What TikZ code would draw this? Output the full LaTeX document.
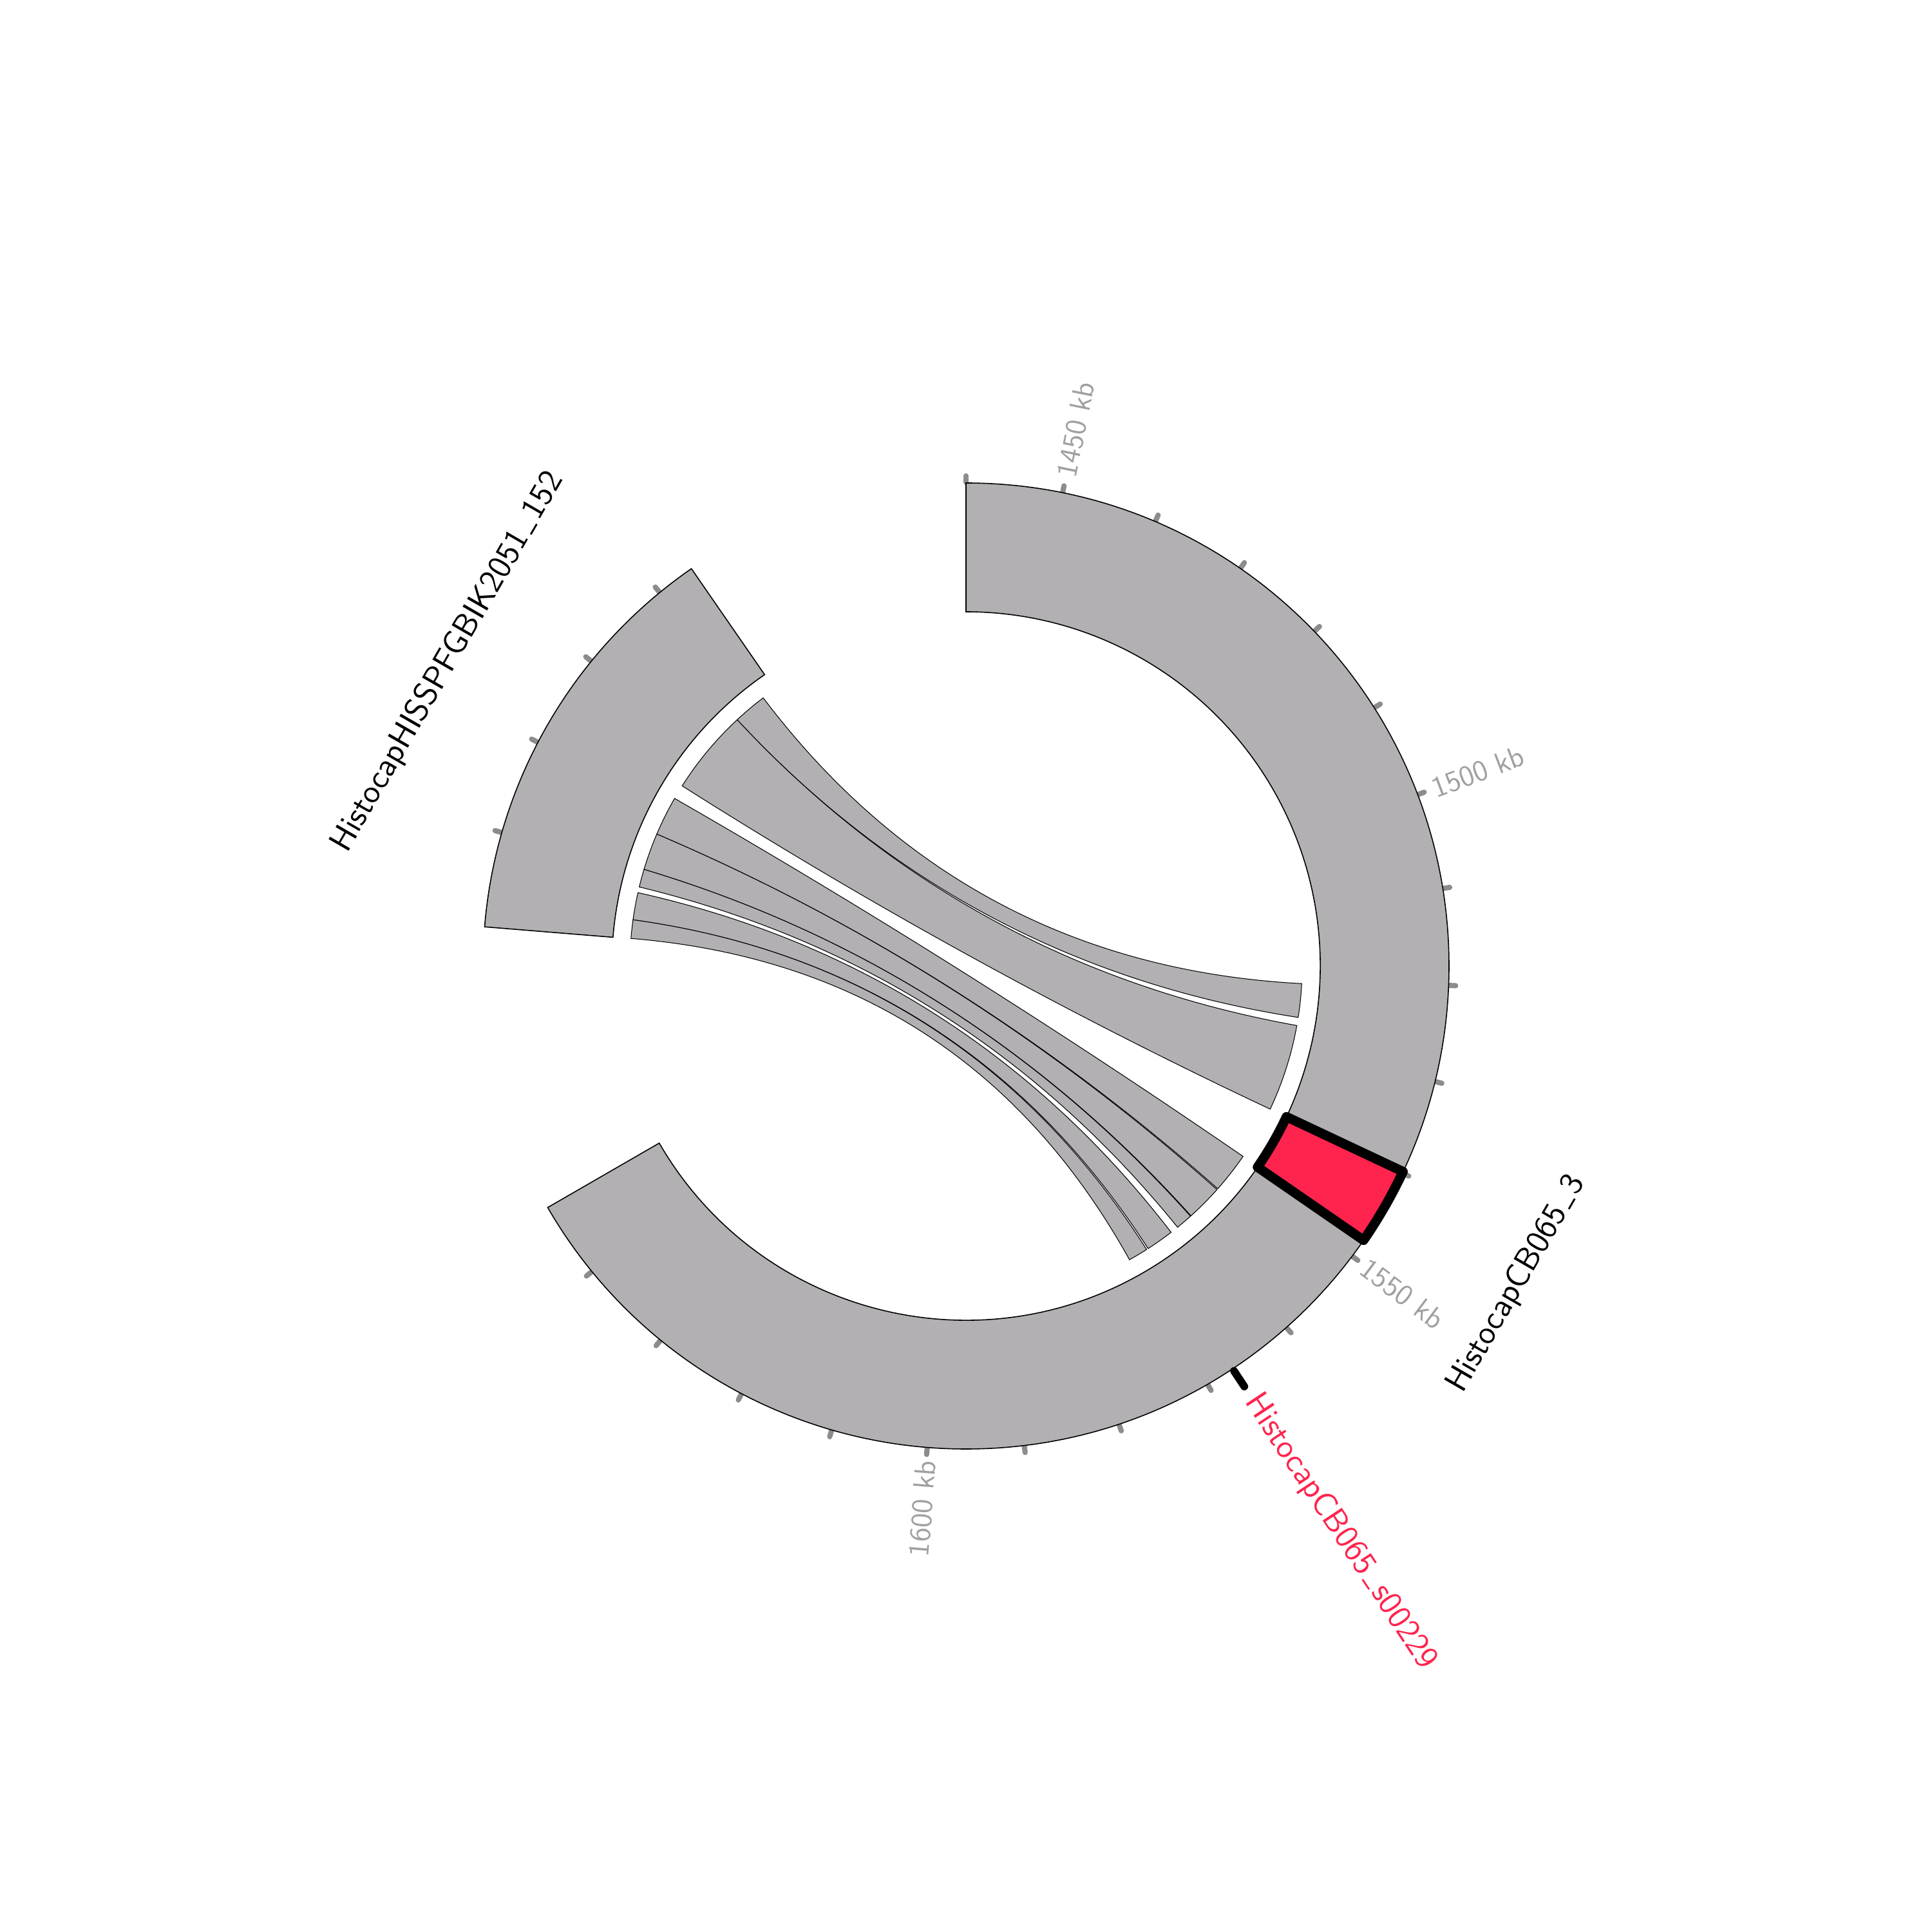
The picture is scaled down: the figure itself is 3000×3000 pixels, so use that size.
\documentclass[tikz,border=0pt]{standalone}
\usepackage{fontspec}
\definecolor{seggray}{RGB}{178,176,178}
\definecolor{tickgray}{RGB}{140,140,140}
\definecolor{labgray}{RGB}{160,160,160}
\definecolor{hired}{RGB}{255,36,78}
\newcommand{\usc}{\kern0.1em\rule[-0.01em]{0.36em}{0.055em}\kern0.1em}
\newcommand{\chordribbon}[4]{%
  \draw[link] (#1:522) arc[start angle=#1, end angle=#2, radius=522]
    .. controls (#2:174) and (#3:174) .. (#3:522)
    arc[start angle=#3, end angle=#4, radius=522]
    .. controls (#4:174) and (#1:174) .. (#1:522) -- cycle;}
\begin{document}
\begin{tikzpicture}[x=0.1mm,y=0.1mm,
  seg/.style={fill=seggray, draw=black, line width=0.45pt},
  link/.style={fill=seggray, draw=black, line width=0.3pt},
  tck/.style={draw=tickgray, line width=2.3pt, line cap=round},
  ticklab/.style={text=labgray, font=\sffamily\fontsize{13}{15}\selectfont, inner sep=0pt},
  seglab/.style={font=\sffamily\fontsize{14.7}{17}\selectfont, inner sep=0pt},
  hibox/.style={fill=hired, draw=black, line width=4.2pt, line join=round},
  marktick/.style={draw=black, line width=3.4pt, line cap=round}]
\useasboundingbox (-1500,-1500) rectangle (1500,1500);
% ticks (drawn first, under segments)
\foreach \k in {0,...,20}{\draw[tck] ({90-\k*11.538}:751) -- ({90-\k*11.538}:761);}
\foreach \a in {129.35,140.88,152.42,163.96}{\draw[tck] (\a:751) -- (\a:761);}
% segments
\draw[seg] (90:750) arc[start angle=90, end angle=-150, radius=750] -- (-150:550)
  arc[start angle=-150, end angle=90, radius=550] -- cycle;
\draw[seg] (124.65:750) arc[start angle=124.65, end angle=175.35, radius=750] -- (175.35:550)
  arc[start angle=175.35, end angle=124.65, radius=550] -- cycle;
% highlighted region
\draw[hibox] (-25.2:750) arc[start angle=-25.2, end angle=-34.6, radius=750] -- (-34.6:550)
  arc[start angle=-34.6, end angle=-25.2, radius=550] -- cycle;
% links
\chordribbon{127.1}{132.9}{-8.8}{-3.0}
\chordribbon{132.9}{147.6}{-25.2}{-10.2}
\chordribbon{150.1}{156.9}{-41.5}{-34.5}
\chordribbon{156.9}{163.3}{-48.0}{-41.7}
\chordribbon{163.3}{166.4}{-51.0}{-48.1}
\chordribbon{167.4}{172.1}{-57.2}{-52.4}
\chordribbon{172.1}{175.3}{-60.9}{-57.5}
% tick labels
\node[ticklab, rotate=78.46, anchor=west] (t1450) at (78.46:775) {1450 kb};
\node[ticklab, rotate=20.77, anchor=west] (t1500) at (20.77:775) {1500 kb};
\node[ticklab, rotate=-36.92, anchor=west] (t1550) at (-36.92:772) {1550 kb};
\node[ticklab, rotate=85.39, anchor=east] (t1600) at (-94.61:770) {1600 kb};
% segment labels
\node[seglab, rotate=60] (labA) at (-30:987) {HistocapCB065\usc3};
\node[seglab, rotate=60] (labB) at (149.6:933) {HistocapHISSPFGBIK2051\usc152};
% marker
\draw[marktick] (-56.5:754) -- (-56.5:783);
\node[seglab, text=hired, rotate=-56.5, anchor=west] (labC) at (-56.5:802) {HistocapCB065\usc s00229};
\end{tikzpicture}
\end{document}
